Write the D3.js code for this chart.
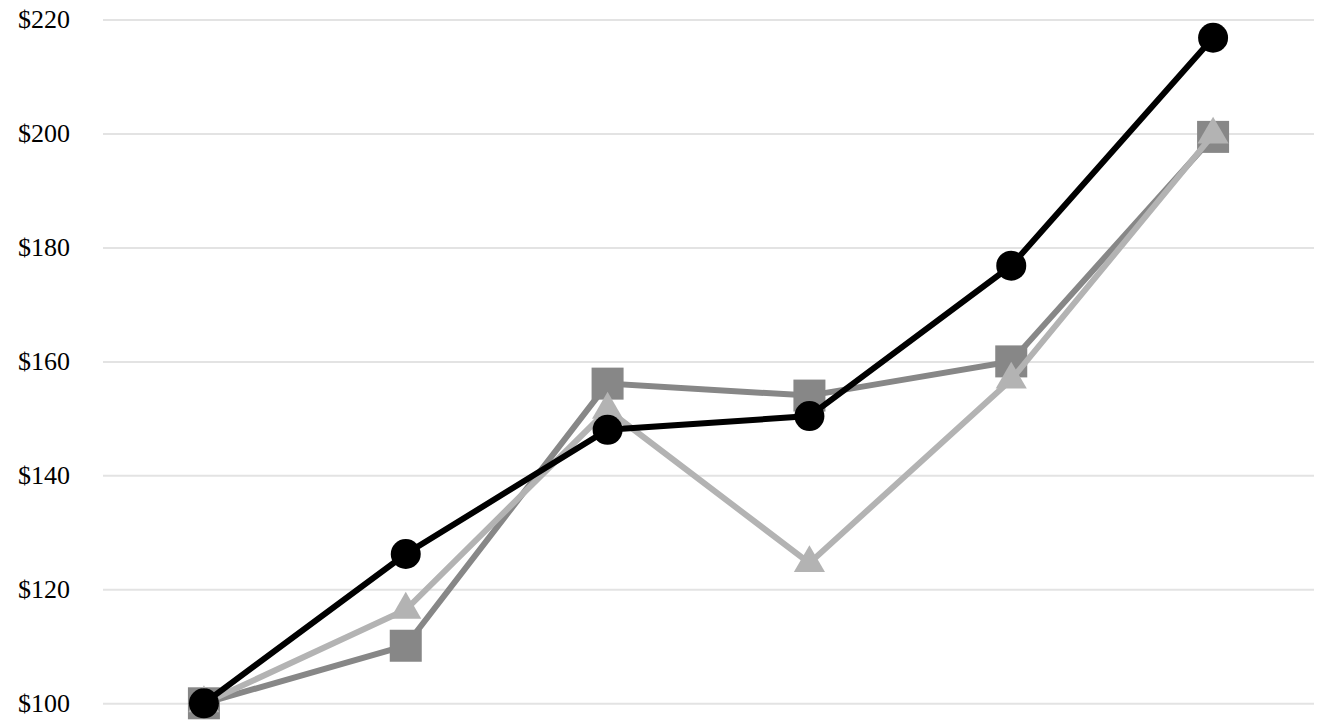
<!DOCTYPE html>
<html lang="en">
<head>
    <meta charset="UTF-8">
    <title>Line chart</title>
    <script src="https://d3js.org/d3.v7.min.js"></script>
    <style>
        body { margin: 0; background: #fff; }
        .tick text { font-family: "Liberation Serif", "Times New Roman", serif; font-size: 26px; fill: #000; }
    </style>
</head>
<body>
    <div id="chart"></div>
    <script>
        // Data
        const periods = ["P1", "P2", "P3", "P4", "P5", "P6"];
        const circleSeries = [100, 126.2, 148, 150.4, 176.8, 216.8];
        const squareSeries = [100, 110.1, 156.1, 154, 160, 199.4];
        const triangleSeries = [100, 116.4, 151.5, 124.6, 156.8, 199.8];
        const yTicks = [100, 120, 140, 160, 180, 200, 220];

        const width = 1334, height = 722;
        const margin = { top: 19.5, right: 20, bottom: 18.7, left: 103 };

        const svg = d3.select("#chart").append("svg")
            .attr("width", width)
            .attr("height", height);

        const x = d3.scalePoint()
            .domain(periods)
            .range([margin.left, width - margin.right])
            .padding(0.5);

        const y = d3.scaleLinear()
            .domain([100, 220])
            .range([height - margin.bottom, margin.top]);

        // Gridlines + labels
        const yAxis = svg.append("g")
            .attr("transform", `translate(${margin.left},0)`)
            .call(d3.axisLeft(y)
                .tickValues(yTicks)
                .tickSize(-(width - margin.left - margin.right))
                .tickPadding(33)
                .tickFormat(d => "$" + d));
        yAxis.select(".domain").remove();
        yAxis.selectAll(".tick line").attr("stroke", "#e3e3e3").attr("stroke-width", 2);

        const line = d3.line()
            .x((d, i) => x(periods[i]))
            .y(d => y(d));

        // square series
        svg.append("path")
            .datum(squareSeries)
            .attr("fill", "none")
            .attr("stroke", "#878787")
            .attr("stroke-width", 6)
            .attr("d", line);
        svg.selectAll(".sq")
            .data(squareSeries)
            .enter().append("rect")
            .attr("class", "sq")
            .attr("x", (d, i) => x(periods[i]) - 16)
            .attr("y", d => y(d) - 16)
            .attr("width", 32)
            .attr("height", 32)
            .attr("fill", "#878787");

        // triangle series
        svg.append("path")
            .datum(triangleSeries)
            .attr("fill", "none")
            .attr("stroke", "#b3b3b3")
            .attr("stroke-width", 6)
            .attr("d", line);
        const tri = d3.symbol().type(d3.symbolTriangle).size(420);
        svg.selectAll(".tri")
            .data(triangleSeries)
            .enter().append("path")
            .attr("class", "tri")
            .attr("transform", (d, i) => `translate(${x(periods[i])},${y(d)})`)
            .attr("d", tri)
            .attr("fill", "#b3b3b3");

        // circle series
        svg.append("path")
            .datum(circleSeries)
            .attr("fill", "none")
            .attr("stroke", "#000")
            .attr("stroke-width", 6)
            .attr("d", line);
        svg.selectAll(".dot")
            .data(circleSeries)
            .enter().append("circle")
            .attr("class", "dot")
            .attr("cx", (d, i) => x(periods[i]))
            .attr("cy", d => y(d))
            .attr("r", 15)
            .attr("fill", "#000");
    </script>
</body>
</html>
